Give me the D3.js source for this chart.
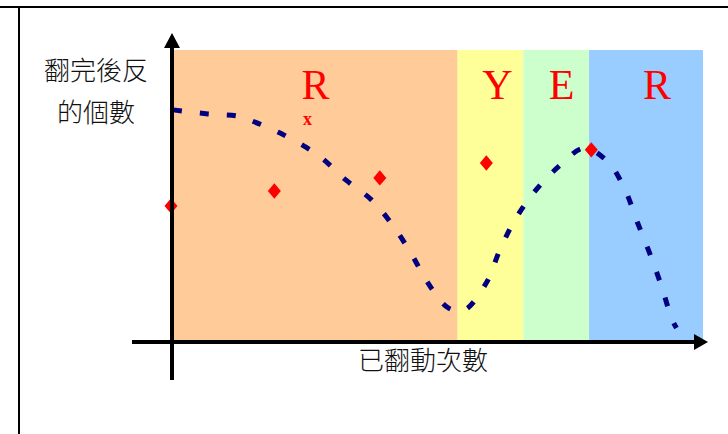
<!DOCTYPE html>
<html lang="zh-Hant">
<head>
  <meta charset="UTF-8">
  <title>翻面次數</title>
  <script src="https://d3js.org/d3.v7.min.js"></script>
  <style>
    body { margin: 0; background: #fff; }
  </style>
</head>
<body>
  <div id="wrapper"></div>
  <script>
    // 顏色區段 (x 範圍, 0-100 的抽象刻度)
    const bandEdges = [0, 53.7, 66.1, 78.5, 100]
    const bandColors = ['#ffcc99', '#ffff99', '#ccffcc', '#99ccff']
    const bandLetters = ['R', 'Y', 'E', 'R']
    const letterX = [26.9, 61.2, 73.3, 91.3]

    // 紅色菱形點
    const pointX = [0, 19.5, 39.4, 59.5, 79.3]
    const pointY = [46.6, 51.7, 56.2, 61.3, 65.8]

    // 虛線曲線
    const curveX = [0, 6.6, 12.1, 14.9, 19.8, 25.0, 28.1, 32.6, 37.5, 41.4, 45.0, 48.0, 52.0, 55.0,
      59.1, 61.6, 64.6, 68.5, 73.1, 77.6, 82.1, 85.3, 87.6, 90.0, 92.1, 94.2, 95.0]
    const curveY = [79.5, 78.1, 77.4, 75.7, 71.9, 66.8, 63.0, 55.5, 48.6, 40.1, 30.1, 20.5, 11.6, 11.0,
      20.2, 31.2, 42.1, 52.1, 60.6, 66.4, 61.6, 52.1, 41.1, 30.1, 19.5, 7.5, 4.8]

    const yLabel = ['翻完後反', '的個數']
    const xLabel = '已翻動次數'

    const width = 728
    const height = 434

    const svg = d3.select('#wrapper')
      .append('svg')
        .attr('width', width)
        .attr('height', height)

    // 外框線
    svg.append('line')
      .attr('x1', 0).attr('x2', width)
      .attr('y1', 7).attr('y2', 7)
      .attr('stroke', '#000').attr('stroke-width', 2)
    svg.append('line')
      .attr('x1', 19).attr('x2', 19)
      .attr('y1', 7).attr('y2', height)
      .attr('stroke', '#000').attr('stroke-width', 2)

    const xScale = d3.scaleLinear().domain([0, 100]).range([173, 703])
    const yScale = d3.scaleLinear().domain([0, 100]).range([342, 50])

    // 背景色塊
    svg.selectAll('.band')
      .data(bandColors)
      .join('rect')
        .attr('class', 'band')
        .attr('x', (d, i) => xScale(bandEdges[i]))
        .attr('width', (d, i) => xScale(bandEdges[i + 1]) - xScale(bandEdges[i]))
        .attr('y', yScale(100))
        .attr('height', yScale(0) - yScale(100))
        .attr('fill', d => d)

    svg.selectAll('.letter')
      .data(bandLetters)
      .join('text')
        .attr('class', 'letter')
        .attr('x', (d, i) => xScale(letterX[i]))
        .attr('y', yScale(83.3))
        .attr('text-anchor', 'middle')
        .attr('font-family', '"Liberation Serif", serif')
        .attr('font-size', 42)
        .attr('fill', '#ff0000')
        .text(d => d)

    svg.append('text')
      .attr('x', xScale(25.4))
      .attr('y', yScale(74.3))
      .attr('text-anchor', 'middle')
      .attr('font-family', '"Liberation Serif", serif')
      .attr('font-size', 18)
      .attr('font-weight', 'bold')
      .attr('fill', '#ff0000')
      .text('x')

    // 虛線
    const lineGenerator = d3.line()
      .x(d => xScale(d[0]))
      .y(d => yScale(d[1]))
      .curve(d3.curveCatmullRom)

    svg.append('path')
      .attr('d', lineGenerator(d3.zip(curveX, curveY)))
      .attr('fill', 'none')
      .attr('stroke', '#000080')
      .attr('stroke-width', 5)
      .attr('stroke-dasharray', '9,18')

    // 菱形
    const diamond = d3.symbol(d3.symbolDiamond2, 150)
    svg.selectAll('.pt')
      .data(d3.zip(pointX, pointY))
      .join('path')
        .attr('class', 'pt')
        .attr('d', diamond)
        .attr('transform', d => `translate(${xScale(d[0]) - 2},${yScale(d[1])}) scale(0.85,1)`)
        .attr('fill', '#ff0000')

    // 座標軸
    const axisColor = '#000'
    svg.append('line')
      .attr('x1', 132).attr('x2', 696)
      .attr('y1', yScale(0)).attr('y2', yScale(0))
      .attr('stroke', axisColor).attr('stroke-width', 4)
    svg.append('path')
      .attr('d', `M694,${yScale(0) - 8}L708,${yScale(0)}L694,${yScale(0) + 8}Z`)
      .attr('fill', axisColor)
    svg.append('line')
      .attr('x1', 172).attr('x2', 172)
      .attr('y1', 380).attr('y2', 45)
      .attr('stroke', axisColor).attr('stroke-width', 4)
    svg.append('path')
      .attr('d', 'M164,48L172,33L180,48Z')
      .attr('fill', axisColor)

    // 軸標籤
    svg.selectAll('.ylab')
      .data(yLabel)
      .join('text')
        .attr('class', 'ylab')
        .attr('x', 96)
        .attr('y', (d, i) => 80 + i * 42)
        .attr('text-anchor', 'middle')
        .attr('font-family', '"Noto Sans CJK TC", sans-serif')
        .attr('font-weight', 300)
        .attr('font-size', 26)
        .attr('fill', '#111')
        .text(d => d)

    svg.append('text')
      .attr('x', 423)
      .attr('y', 370)
      .attr('text-anchor', 'middle')
      .attr('font-family', '"Noto Sans CJK TC", sans-serif')
      .attr('font-weight', 300)
      .attr('font-size', 26)
      .attr('fill', '#111')
      .text(xLabel)
  </script>
</body>
</html>
